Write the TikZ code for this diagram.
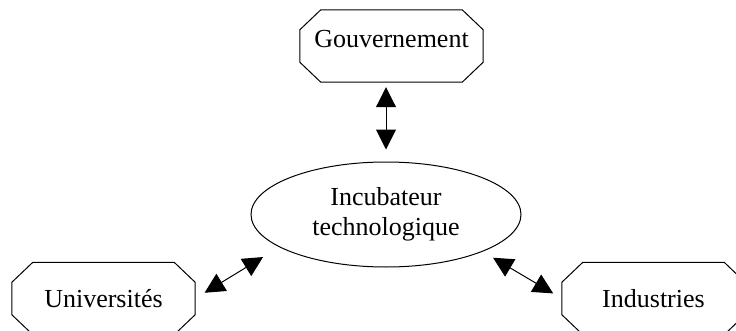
\documentclass[tikz,border=0pt]{standalone}
\usepackage{fontspec}
\setmainfont{Liberation Serif}
\usetikzlibrary{shapes.geometric,arrows.meta}
% octagon drawn round a named node
\newcommand{\octogone}[1]{\draw[line width=1pt] ([xshift=21pt]#1.north west) -- ([xshift=-21pt]#1.north east) -- ([yshift=-20pt]#1.north east) -- ([yshift=20pt]#1.south east) -- ([xshift=-21pt]#1.south east) -- ([xshift=21pt]#1.south west) -- ([yshift=20pt]#1.south west) -- ([yshift=-20pt]#1.north west) -- cycle;}
\begin{document}
\begin{tikzpicture}[x=1pt,y=1pt,
  boite/.style={rectangle, inner sep=0pt, minimum width=183pt, minimum height=72pt, font=\fontsize{26}{30}\selectfont},
  bulle/.style={draw, line width=1pt, ellipse, inner sep=0pt, minimum width=270pt, minimum height=105pt, align=center, font=\fontsize{26}{30}\selectfont},
  twoway/.style={{Triangle[length=20pt,width=20pt]}-{Triangle[length=20pt,width=20pt]}, line width=1pt}]
\useasboundingbox (0,0) rectangle (736,330);
\node[boite, text depth=15pt] (gouv) at (391.5,284){Gouvernement};
\node[bulle] (incub) at (386,115.5){Incubateur\\technologique};
\node[boite] (univ) at (103.5,31.5){Universités};
\node[boite] (indus) at (653.5,31.5){Industries};
\octogone{gouv}
\octogone{univ}
\octogone{indus}
\draw[twoway, shorten <=5pt, shorten >=12pt](incub.north |- gouv.south) -- (incub.north);
\draw[twoway, shorten <=11pt, shorten >=19pt](univ.east) -- (incub.197.5);
\draw[twoway, shorten <=10pt, shorten >=12pt](indus.west) -- (incub.339.4);
\end{tikzpicture}
\end{document}
